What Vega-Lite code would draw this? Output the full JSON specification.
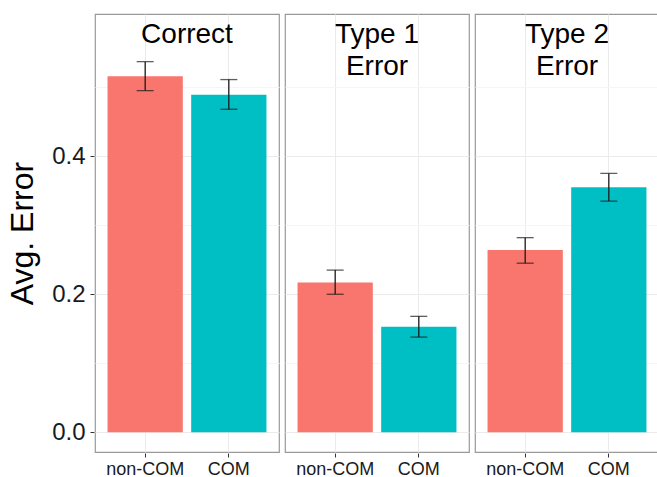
{
  "$schema": "https://vega.github.io/schema/vega-lite/v6.json",
  "padding": {"left": 6, "top": 13, "right": 1, "bottom": 0},
  "background": "white",
  "data": {"values": [
    {"type": "Correct", "label": "Correct", "group": "non-COM", "mean": 0.516, "lo": 0.495, "hi": 0.537},
    {"type": "Correct", "label": "Correct", "group": "COM", "mean": 0.489, "lo": 0.468, "hi": 0.511},
    {"type": "Type 1", "label": "Type 1\nError", "group": "non-COM", "mean": 0.217, "lo": 0.200, "hi": 0.235},
    {"type": "Type 1", "label": "Type 1\nError", "group": "COM", "mean": 0.153, "lo": 0.138, "hi": 0.168},
    {"type": "Type 2", "label": "Type 2\nError", "group": "non-COM", "mean": 0.264, "lo": 0.245, "hi": 0.282},
    {"type": "Type 2", "label": "Type 2\nError", "group": "COM", "mean": 0.355, "lo": 0.335, "hi": 0.375}
  ]},
  "facet": {"column": {"field": "type", "type": "nominal", "sort": ["Correct", "Type 1", "Type 2"], "header": {"title": null, "labels": false}}},
  "spacing": 4,
  "spec": {
    "width": 184,
    "height": 438,
    "layer": [
      {
        "mark": {"type": "bar"},
        "encoding": {
          "x": {"field": "group", "type": "nominal", "sort": ["non-COM", "COM"],
            "scale": {"paddingInner": 0.1, "paddingOuter": 0.15},
            "axis": {"title": null, "labelFontSize": 18, "labelColor": "#1a1a1a", "labelAngle": 0, "domain": false, "tickSize": 4, "tickColor": "#333333", "grid": true, "gridColor": "#ebebeb", "bandPosition": 0.5, "labelPadding": 3}},
          "y": {"field": "mean", "type": "quantitative",
            "scale": {"domain": [-0.0285, 0.606], "nice": false, "zero": false},
            "axis": {"title": "Avg. Error", "titleFontSize": 32, "titleFontWeight": "normal", "titleColor": "black", "titlePadding": 12,
              "labelFontSize": 24, "labelColor": "#1a1a1a", "labelPadding": 5,
              "values": [0, 0.1, 0.2, 0.3, 0.4, 0.5],
              "labelExpr": "round(datum.value*10)%2==1 ? '' : format(datum.value, '.1f')",
              "tickSize": 4, "tickColor": "#333333",
              "tickOpacity": {"condition": {"test": "round(datum.value*10)%2==1", "value": 0}, "value": 1},
              "grid": true,
              "gridColor": {"condition": {"test": "round(datum.value*10)%2==1", "value": "#f5f5f5"}, "value": "#ebebeb"},
              "domain": false}},
          "y2": {"datum": 0},
          "color": {"field": "group", "type": "nominal", "scale": {"domain": ["non-COM", "COM"], "range": ["#F8766D", "#00BFC4"]}, "legend": null}
        }
      },
      {
        "mark": {"type": "rule", "color": "#1a1a1a", "strokeWidth": 1.3},
        "encoding": {
          "x": {"field": "group", "type": "nominal", "sort": ["non-COM", "COM"]},
          "y": {"field": "lo", "type": "quantitative"},
          "y2": {"field": "hi"}
        }
      },
      {
        "mark": {"type": "tick", "color": "#1a1a1a", "thickness": 1.3},
        "encoding": {
          "x": {"field": "group", "type": "nominal", "sort": ["non-COM", "COM"]},
          "y": {"field": "lo", "type": "quantitative"},
          "size": {"value": 17}
        }
      },
      {
        "mark": {"type": "tick", "color": "#1a1a1a", "thickness": 1.3},
        "encoding": {
          "x": {"field": "group", "type": "nominal", "sort": ["non-COM", "COM"]},
          "y": {"field": "hi", "type": "quantitative"},
          "size": {"value": 17}
        }
      },
      {
        "transform": [{"filter": "datum.group == 'COM'"}],
        "mark": {"type": "text", "lineBreak": "\n", "fontSize": 28, "baseline": "alphabetic", "lineHeight": 32, "color": "black"},
        "encoding": {
          "text": {"field": "label"},
          "y": {"datum": 0.5644}
        }
      }
    ]
  },
  "config": {
    "font": "Liberation Sans",
    "view": {"stroke": "#999999", "strokeWidth": 1.2}
  }
}
